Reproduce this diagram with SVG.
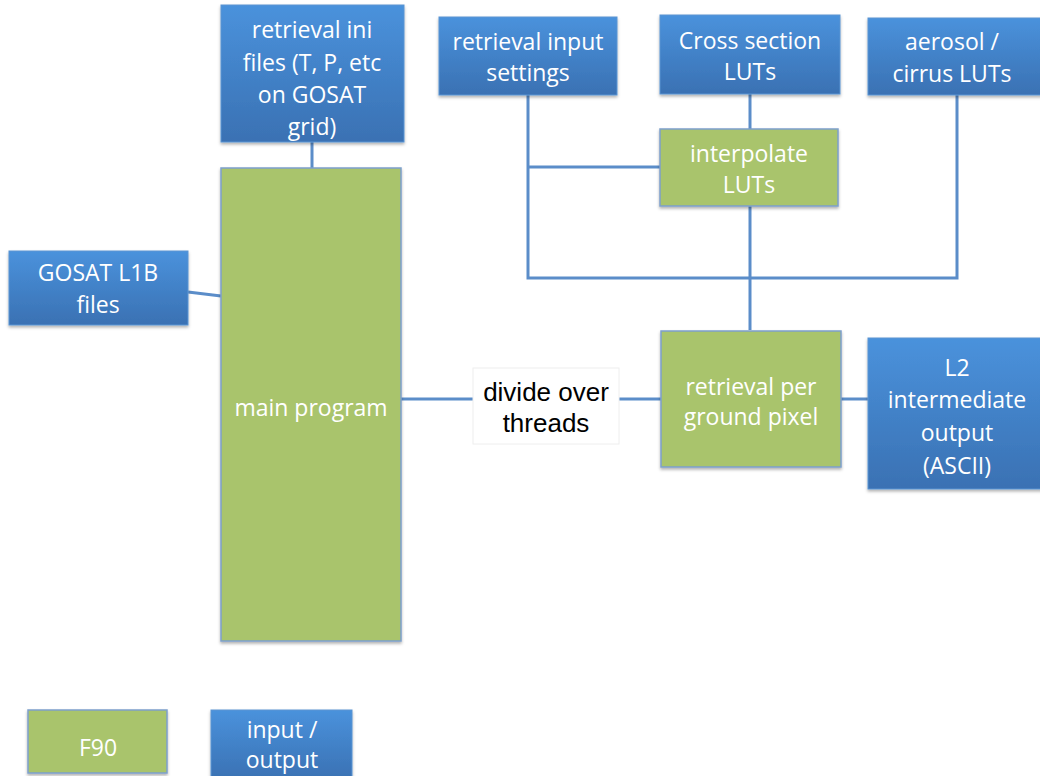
<svg xmlns="http://www.w3.org/2000/svg" width="1040" height="776" viewBox="0 0 1040 776">
<defs>
<linearGradient id="bg" x1="0" y1="0" x2="0" y2="1">
<stop offset="0" stop-color="#4A92DC"/>
<stop offset="1" stop-color="#3A71B3"/>
</linearGradient>
<filter id="sh" x="-10%" y="-10%" width="130%" height="130%">
<feDropShadow dx="0" dy="2" stdDeviation="1.5" flood-color="#000" flood-opacity="0.3"/>
</filter>
</defs>
<style>
.blue{fill:url(#bg);stroke:#5A94D2;stroke-width:1;filter:url(#sh)}
.green{fill:#A9C46C;stroke:#7D9FCB;stroke-width:1.5;filter:url(#sh)}
.t{font-family:"Open Sans","DejaVu Sans",sans-serif;font-size:23px;fill:#FFFFFF;text-anchor:middle}
.k{font-family:"Liberation Sans",Arial,sans-serif;font-size:26px;fill:#000000;text-anchor:middle}
.c{fill:none;stroke:#5B8DC9;stroke-width:3}
</style>
<rect width="1040" height="776" fill="#FFFFFF"/>
<g id="connectors">
<line class="c" x1="312" y1="142" x2="312" y2="168"/>
<line class="c" x1="188" y1="292" x2="221" y2="296"/>
<polyline class="c" points="528,95 528,278 957,278 957,95"/>
<line class="c" x1="528" y1="167" x2="660" y2="167"/>
<line class="c" x1="750" y1="94" x2="750" y2="129"/>
<line class="c" x1="750" y1="206" x2="750" y2="330"/>
<line class="c" x1="401" y1="399" x2="661" y2="399"/>
<line class="c" x1="841" y1="399" x2="868" y2="399"/>
</g>
<g id="ini">
<rect class="blue" x="221" y="5" width="183" height="137"/>
<text class="t" x="312" y="38">retrieval ini</text>
<text class="t" x="312" y="71">files (T, P, etc</text>
<text class="t" x="312" y="103">on GOSAT</text>
<text class="t" x="312" y="135">grid)</text>
</g>
<g id="main">
<rect class="green" x="221" y="168" width="180" height="473"/>
<text class="t" x="311" y="416">main program</text>
</g>
<g id="l1b">
<rect class="blue" x="9" y="251" width="179" height="74"/>
<text class="t" x="98" y="281">GOSAT L1B</text>
<text class="t" x="98" y="313">files</text>
</g>
<g id="settings">
<rect class="blue" x="439" y="17" width="178" height="78"/>
<text class="t" x="528" y="50">retrieval input</text>
<text class="t" x="528" y="81">settings</text>
</g>
<g id="xsec">
<rect class="blue" x="660" y="15" width="180" height="79"/>
<text class="t" x="750" y="49">Cross section</text>
<text class="t" x="750" y="80">LUTs</text>
</g>
<g id="aerosol">
<rect class="blue" x="868" y="18" width="180" height="77"/>
<text class="t" x="952" y="50">aerosol /</text>
<text class="t" x="952" y="82">cirrus LUTs</text>
</g>
<g id="interp">
<rect class="green" x="660" y="129" width="178" height="77"/>
<text class="t" x="749" y="162">interpolate</text>
<text class="t" x="749" y="193">LUTs</text>
</g>
<g id="divide">
<rect x="473" y="368" width="146" height="76" fill="#FFFFFF" stroke="#EEEEEE" stroke-width="1"/>
<text class="k" x="546" y="401">divide over</text>
<text class="k" x="546" y="432">threads</text>
</g>
<g id="pixel">
<rect class="green" x="661" y="331" width="180" height="136"/>
<text class="t" x="751" y="395">retrieval per</text>
<text class="t" x="751" y="425">ground pixel</text>
</g>
<g id="l2">
<rect class="blue" x="868" y="338" width="180" height="151"/>
<text class="t" x="957" y="376">L2</text>
<text class="t" x="957" y="408">intermediate</text>
<text class="t" x="957" y="441">output</text>
<text class="t" x="957" y="474">(ASCII)</text>
</g>
<g id="legend-f90">
<rect class="green" x="28" y="710" width="139" height="63"/>
<text class="t" x="98" y="756">F90</text>
</g>
<g id="legend-io">
<rect class="blue" x="211" y="710" width="141" height="70"/>
<text class="t" x="282" y="738">input /</text>
<text class="t" x="282" y="768">output</text>
</g>
</svg>
